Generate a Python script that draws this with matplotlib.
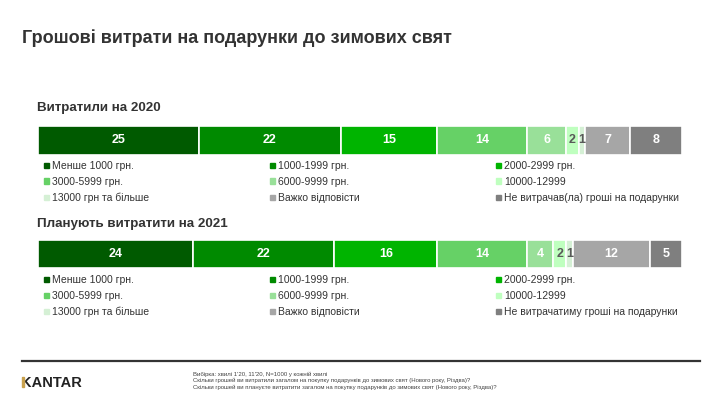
import matplotlib
matplotlib.use("Agg")
import matplotlib.pyplot as plt
from matplotlib.patches import Rectangle

plt.rcParams['font.family'] = ['Liberation Sans', 'DejaVu Sans']

# data
vals_2020 = [25, 22, 15, 14, 6, 2, 1, 7, 8]
vals_2021 = [24, 22, 16, 14, 4, 2, 1, 12, 5]
cats_2020 = ['Менше 1000 грн.', '1000-1999 грн.', '2000-2999 грн.',
             '3000-5999 грн.', '6000-9999 грн.', '10000-12999',
             '13000 грн та більше', 'Важко відповісти', 'Не витрачав(ла) гроші на подарунки']
cats_2021 = cats_2020[:-1] + ['Не витрачатиму гроші на подарунки']
colors = ['#005a00', '#008a00', '#00b400', '#66d166', '#99e099',
          '#bfffbf', '#d5f0d5', '#a6a6a6', '#7f7f7f']
lbl_colors = ['white'] * 5 + ['#595959', '#595959'] + ['white'] * 2

W, H = 720, 405
fig = plt.figure(figsize=(7.2, 4.05), dpi=100)

def fx(px):
    return px / W

def fy(py):
    return 1 - py / H

fig.text(fx(22), fy(38), 'Грошові витрати на подарунки до зимових свят',
         fontsize=13, fontweight='bold', color='#333333', va='center')


def draw_block(title, vals, cats, y_title, y_top, y_bot, y_leg):
    fig.text(fx(37), fy(y_title), title, fontsize=9.6,
             fontweight='bold', color='#333333', va='center')
    ax = fig.add_axes([fx(38), fy(y_bot), fx(682 - 38), (y_bot - y_top) / H])
    left = 0
    for v, c, lc in zip(vals, colors, lbl_colors):
        ax.barh(0, v, left=left, color=c, edgecolor='white', linewidth=1.2, height=1)
        ax.text(left + v / 2, 0, str(v), ha='center', va='center',
                fontsize=9, fontweight='bold', color=lc)
        left += v
    ax.set_xlim(0, sum(vals))
    ax.set_ylim(-0.5, 0.5)
    ax.axis('off')
    # legend, 3 columns
    col_x = [44, 270, 496]
    for i, (name, c) in enumerate(zip(cats, colors)):
        r, k = divmod(i, 3)
        x = col_x[k]
        y = y_leg + r * 16
        fig.patches.append(Rectangle((fx(x), fy(y + 2.5)), fx(5), 5 / H,
                                     transform=fig.transFigure, color=c))
        fig.text(fx(x + 8), fy(y + 4), name, fontsize=7.5, color='#333333',
                 va='baseline')


draw_block('Витратили на 2020', vals_2020, cats_2020, 108, 126, 155, 165)
draw_block('Планують витратити на 2021', vals_2021, cats_2021, 224, 240, 268, 279)

# footer
fig.add_artist(plt.Line2D([fx(22), fx(700)], [fy(361), fy(361)],
                          transform=fig.transFigure, color='#333333', linewidth=1.6))
fig.text(fx(21), fy(387.3), 'KANTAR', fontsize=10.5, fontweight='bold',
         color='#222222', va='baseline')
fig.add_artist(Rectangle((fx(21.8), fy(387.3)), fx(2.6), 10.6 / H,
                         transform=fig.transFigure, color='#c9a24e', zorder=10))
notes = ["Вибірка: хвилі 1'20, 11'20, N=1000 у кожній хвилі",
         'Скільки грошей ви витратили загалом на покупку подарунків до зимових свят (Нового року, Різдва)?',
         'Скільки грошей ви плануєте витратити загалом на покупку подарунків до зимових свят (Нового року, Різдва)?']
for i, t in enumerate(notes):
    fig.text(fx(193), fy(374.5 + i * 6.4), t, fontsize=4.3, color='#444444', va='center')

fig.savefig('out.png', dpi=100)
